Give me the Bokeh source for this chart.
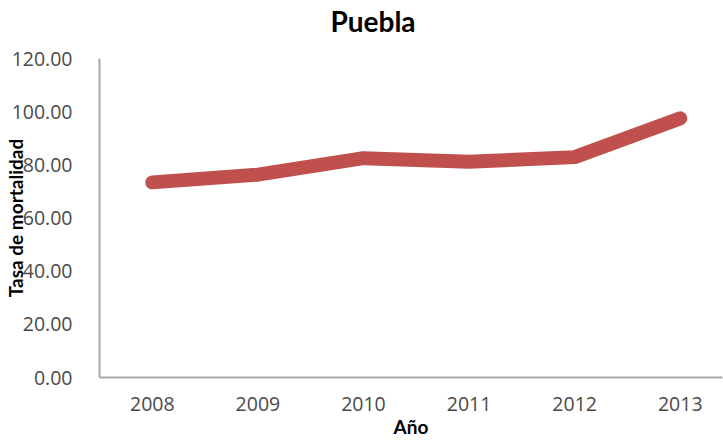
from bokeh.plotting import figure
from bokeh.models import Range1d, FixedTicker, NumeralTickFormatter, Title
from bokeh.embed import file_html
from bokeh.resources import INLINE

years = [2008, 2009, 2010, 2011, 2012, 2013]
tasa = [73.4, 76.3, 82.5, 81.2, 82.9, 97.5]
y_ticks = [0, 20, 40, 60, 80, 100, 120]
chart_title = "Puebla"

p = figure(width=723, height=440, output_backend="svg", toolbar_location=None, title=None,
           x_range=Range1d(2007.5, 2013.4), y_range=Range1d(0, 120),
           min_border_left=97, min_border_right=1, min_border_top=58, min_border_bottom=61)
p.outline_line_color = None
p.background_fill_color = "white"
p.border_fill_color = "white"
p.xgrid.visible = False
p.ygrid.visible = False

p.line(years, tasa, line_width=14, line_color="#C0504D", line_cap="round", line_join="round")

# spacer panel between the frame and the title
spacer = Title(text=" ", text_font_size="1px", standoff=17, text_color="white")
p.add_layout(spacer, "above")
title = Title(text=chart_title, align="left", offset=231, standoff=2,
              text_font="Lato", text_font_size="28px", text_font_style="bold",
              text_color="black")
p.add_layout(title, "above")

for ax in (p.xaxis[0], p.yaxis[0]):
    ax.axis_line_color = "#A6A6A6"
    ax.axis_line_width = 2
    ax.major_tick_line_color = None
    ax.minor_tick_line_color = None
    ax.major_label_text_font = "Open Sans"
    ax.major_label_text_font_size = "19.5px"
    ax.major_label_text_color = "#4a4a4a"
    ax.axis_label_text_font = "Lato"
    ax.axis_label_text_font_size = "19px"
    ax.axis_label_text_font_style = "bold"
    ax.axis_label_text_color = "black"

p.xaxis.ticker = FixedTicker(ticks=years)
p.xaxis.major_label_standoff = 13
p.xaxis.axis_label = "Año"
p.xaxis.axis_label_standoff = 1

p.yaxis.ticker = FixedTicker(ticks=y_ticks)
p.yaxis.formatter = NumeralTickFormatter(format="0.00")
p.yaxis.major_label_standoff = 21
p.yaxis.axis_label = "Tasa de mortalidad"
p.yaxis.axis_label_standoff = -18

open("out.html", "w").write(file_html(p, INLINE))
